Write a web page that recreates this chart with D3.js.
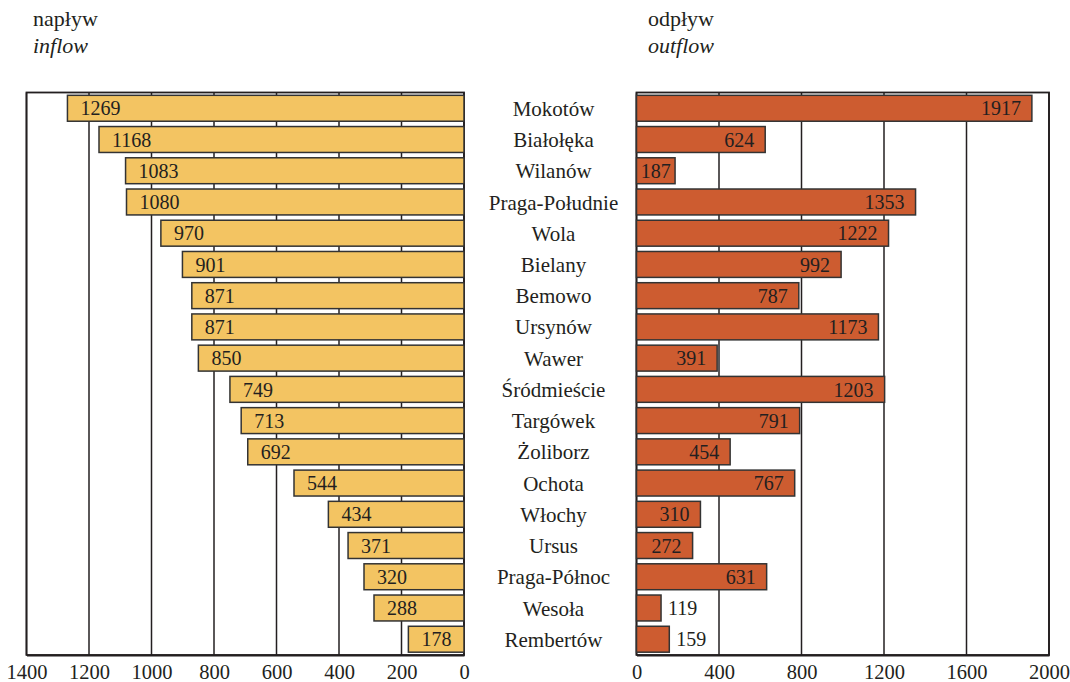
<!DOCTYPE html>
<html>
<head>
<meta charset="utf-8">
<title>napływ / odpływ</title>
<script src="https://d3js.org/d3.v7.min.js"></script>
<style>
  body { margin: 0; background: #fff; }
  svg text { fill: #231f20; }
</style>
</head>
<body>
<script>
// districts, top to bottom
var districts = ["Mokotów", "Białołęka", "Wilanów", "Praga-Południe", "Wola", "Bielany",
  "Bemowo", "Ursynów", "Wawer", "Śródmieście", "Targówek", "Żoliborz", "Ochota",
  "Włochy", "Ursus", "Praga-Północ", "Wesoła", "Rembertów"];
var inflow = [1269, 1168, 1083, 1080, 970, 901, 871, 871, 850, 749, 713, 692, 544, 434, 371, 320, 288, 178];
var outflow = [1917, 624, 187, 1353, 1222, 992, 787, 1173, 391, 1203, 791, 454, 767, 310, 272, 631, 119, 159];
var inTicks = [1400, 1200, 1000, 800, 600, 400, 200, 0];
var outTicks = [0, 400, 800, 1200, 1600, 2000];

var W = 1070, H = 682;
var plotTop = 92.5, plotBottom = 655;
var ink = "#231f20";
var serif = "Liberation Serif";

var svg = d3.select("body").append("svg")
    .attr("width", W)
    .attr("height", H)
    .attr("font-family", serif);

var y = d3.scaleBand()
    .domain(districts)
    .range([plotTop, plotBottom])
    .paddingInner(0.17)
    .paddingOuter(0.09);

var xIn = d3.scaleLinear().domain([1400, 0]).range([26.5, 464]);
var xOut = d3.scaleLinear().domain([0, 2000]).range([636.5, 1049]);

function panel(x, ticks, vals, fill, side) {
  var g = svg.append("g");
  // grid lines
  g.selectAll(".grid")
    .data(ticks)
    .enter().append("line")
      .attr("x1", function(d) { return x(d); })
      .attr("x2", function(d) { return x(d); })
      .attr("y1", plotTop)
      .attr("y2", plotBottom)
      .attr("stroke", ink)
      .attr("stroke-width", 1.5);
  // frame
  var r = x.range();
  g.append("rect")
    .attr("x", Math.min(r[0], r[1]))
    .attr("y", plotTop)
    .attr("width", Math.abs(r[1] - r[0]))
    .attr("height", plotBottom - plotTop)
    .attr("fill", "none")
    .attr("stroke", ink)
    .attr("stroke-width", 1.8);

  // bars
  g.selectAll(".bar")
    .data(vals)
    .enter().append("rect")
      .attr("x", function(d) { return Math.min(x(0), x(d)); })
      .attr("width", function(d) { return Math.abs(x(d) - x(0)); })
      .attr("y", function(d, i) { return y(districts[i]); })
      .attr("height", y.bandwidth())
      .attr("fill", fill)
      .attr("stroke", "#333")
      .attr("stroke-width", 1.5);

  // value labels
  g.selectAll(".val")
    .data(vals)
    .enter().append("text")
      .attr("y", function(d, i) { return y(districts[i]) + y.bandwidth() / 2; })
      .attr("dy", "0.36em")
      .attr("font-size", 20)
      .attr("font-family", serif)
      .each(function(d) {
        var t = d3.select(this).text(d);
        if (side == "left") {
          t.attr("x", x(d) + 13).attr("text-anchor", "start");
        } else {
          var w = x(d) - x(0);
          if (w > 36) t.attr("x", x(d) - Math.min(11, (w - 30) / 2)).attr("text-anchor", "end");
          else t.attr("x", x(d) + 7).attr("text-anchor", "start");
        }
      });

  // axis
  var ax = svg.append("g")
      .attr("transform", "translate(0," + plotBottom + ")")
      .call(d3.axisBottom(x).tickValues(ticks).tickSize(0).tickPadding(9).tickFormat(d3.format("d")));
  ax.attr("font-family", serif);
  ax.select(".domain").attr("stroke", ink).attr("stroke-width", 1.8);
  ax.selectAll("text").attr("font-size", 20.5).attr("fill", ink);
}

panel(xIn, inTicks, inflow, "#f3c462", "left");
panel(xOut, outTicks, outflow, "#cd5c30", "right");

// district names
svg.selectAll(".cat")
  .data(districts)
  .enter().append("text")
    .attr("x", 553.5)
    .attr("y", function(d) { return y(d) + y.bandwidth() / 2; })
    .attr("dy", "0.36em")
    .attr("text-anchor", "middle")
    .attr("font-size", 21)
    .text(function(d) { return d; });

// headers
var heads = [[33, "napływ", "inflow"], [648, "odpływ", "outflow"]];
heads.forEach(function(h) {
  svg.append("text").attr("x", h[0]).attr("y", 26).attr("font-size", 22).text(h[1]);
  svg.append("text").attr("x", h[0]).attr("y", 53).attr("font-size", 22)
    .attr("font-style", "italic").text(h[2]);
});
</script>
</body>
</html>
